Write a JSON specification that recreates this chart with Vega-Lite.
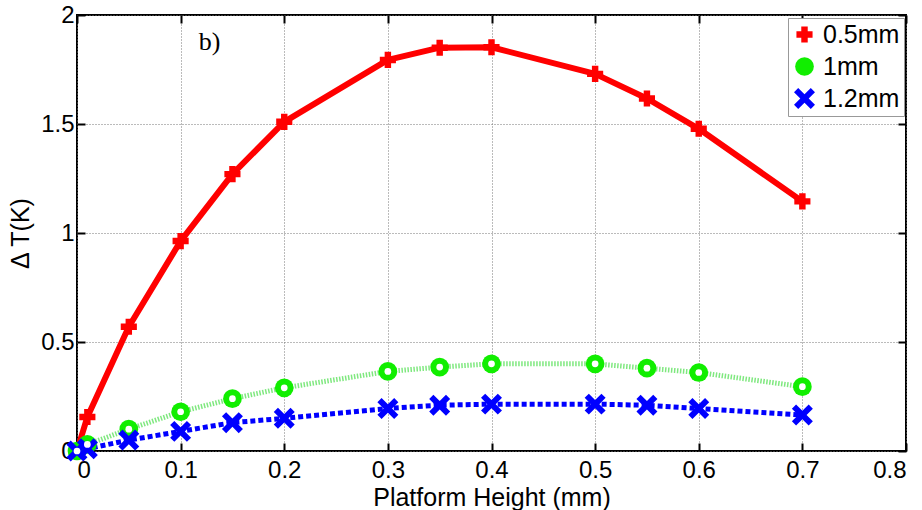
{
  "$schema": "https://vega.github.io/schema/vega-lite/v6.json",
  "width": 829,
  "height": 436,
  "autosize": {"type": "none"},
  "padding": {"left": 77, "top": 15, "right": 16, "bottom": 59},
  "background": "white",
  "config": {
    "view": {"stroke": "black", "strokeWidth": 2},
    "axis": {
      "labelFont": "Liberation Sans",
      "labelFontSize": 24,
      "labelColor": "black",
      "titleFont": "Liberation Sans",
      "titleFontSize": 25,
      "titleFontWeight": "normal",
      "titleColor": "black",
      "domain": false,
      "tickColor": "black",
      "tickWidth": 2,
      "tickSize": -8,
      "gridColor": "#777777",
      "gridDash": [1, 2],
      "gridWidth": 1,
      "format": "~g"
    },
    "legend": {
      "labelFont": "Liberation Sans",
      "labelFontSize": 25,
      "labelColor": "black",
      "strokeColor": "#999999",
      "fillColor": "white",
      "padding": 4,
      "rowPadding": 6,
      "labelOffset": 6,
      "symbolStrokeWidth": 0
    }
  },
  "data": {
    "values": [
      {"x": 0, "y": 0, "series": "0.5mm"},
      {"x": 0.01, "y": 0.156, "series": "0.5mm"},
      {"x": 0.05, "y": 0.57, "series": "0.5mm"},
      {"x": 0.1, "y": 0.963, "series": "0.5mm"},
      {"x": 0.15, "y": 1.27, "series": "0.5mm"},
      {"x": 0.2, "y": 1.51, "series": "0.5mm"},
      {"x": 0.3, "y": 1.794, "series": "0.5mm"},
      {"x": 0.35, "y": 1.85, "series": "0.5mm"},
      {"x": 0.4, "y": 1.852, "series": "0.5mm"},
      {"x": 0.5, "y": 1.73, "series": "0.5mm"},
      {"x": 0.55, "y": 1.617, "series": "0.5mm"},
      {"x": 0.6, "y": 1.478, "series": "0.5mm"},
      {"x": 0.7, "y": 1.145, "series": "0.5mm"},
      {"x": 0, "y": 0, "series": "1mm"},
      {"x": 0.01, "y": 0.03, "series": "1mm"},
      {"x": 0.05, "y": 0.1, "series": "1mm"},
      {"x": 0.1, "y": 0.18, "series": "1mm"},
      {"x": 0.15, "y": 0.24, "series": "1mm"},
      {"x": 0.2, "y": 0.29, "series": "1mm"},
      {"x": 0.3, "y": 0.365, "series": "1mm"},
      {"x": 0.35, "y": 0.385, "series": "1mm"},
      {"x": 0.4, "y": 0.4, "series": "1mm"},
      {"x": 0.5, "y": 0.4, "series": "1mm"},
      {"x": 0.55, "y": 0.38, "series": "1mm"},
      {"x": 0.6, "y": 0.36, "series": "1mm"},
      {"x": 0.7, "y": 0.295, "series": "1mm"},
      {"x": 0, "y": 0, "series": "1.2mm"},
      {"x": 0.01, "y": 0.01, "series": "1.2mm"},
      {"x": 0.05, "y": 0.05, "series": "1.2mm"},
      {"x": 0.1, "y": 0.09, "series": "1.2mm"},
      {"x": 0.15, "y": 0.13, "series": "1.2mm"},
      {"x": 0.2, "y": 0.15, "series": "1.2mm"},
      {"x": 0.3, "y": 0.195, "series": "1.2mm"},
      {"x": 0.35, "y": 0.21, "series": "1.2mm"},
      {"x": 0.4, "y": 0.215, "series": "1.2mm"},
      {"x": 0.5, "y": 0.215, "series": "1.2mm"},
      {"x": 0.55, "y": 0.21, "series": "1.2mm"},
      {"x": 0.6, "y": 0.195, "series": "1.2mm"},
      {"x": 0.7, "y": 0.165, "series": "1.2mm"}
    ]
  },
  "encoding": {
    "x": {"field": "x", "type": "quantitative", "scale": {"domain": [0, 0.8], "nice": false, "zero": false}},
    "y": {"field": "y", "type": "quantitative", "scale": {"domain": [0, 2], "nice": false}}
  },
  "layer": [
    {
      "transform": [{"filter": "datum.series == '0.5mm'"}],
      "mark": {"type": "line", "stroke": "#ff0000", "strokeWidth": 6, "strokeJoin": "round"},
      "encoding": {
        "x": {"field": "x", "type": "quantitative", "title": "Platform Height (mm)", "axis": {"values": [0, 0.1, 0.2, 0.3, 0.4, 0.5, 0.6, 0.7, 0.8], "labelPadding": 15, "titlePadding": 3}},
        "y": {"field": "y", "type": "quantitative", "title": "Δ T(K)", "axis": {"values": [0, 0.5, 1, 1.5, 2], "labelPadding": 11, "titlePadding": 7}}
      }
    },
    {
      "transform": [{"filter": "datum.series == '1mm'"}],
      "mark": {"type": "line", "stroke": "#7fe87f", "strokeWidth": 5, "strokeDash": [1.5, 1.5]},
      "encoding": {
        "x": {"field": "x", "type": "quantitative", "axis": null},
        "y": {"field": "y", "type": "quantitative", "axis": null}
      }
    },
    {
      "transform": [{"filter": "datum.series == '1.2mm'"}],
      "mark": {"type": "line", "stroke": "#0000ff", "strokeWidth": 5, "strokeDash": [5, 3]},
      "encoding": {
        "x": {"field": "x", "type": "quantitative", "axis": null},
        "y": {"field": "y", "type": "quantitative", "axis": null}
      }
    },
    {
      "mark": {"type": "point", "filled": true, "opacity": 1},
      "encoding": {
        "x": {"field": "x", "type": "quantitative", "axis": null},
        "y": {"field": "y", "type": "quantitative", "axis": null},
        "fill": {"field": "series", "type": "nominal", "scale": {"domain": ["0.5mm", "1mm", "1.2mm"], "range": ["#ff0000", "#11ee00", "#0000ff"]}, "legend": {"title": null, "orient": "none", "legendX": 711, "legendY": 3}},
        "shape": {"field": "series", "type": "nominal", "scale": {"domain": ["0.5mm", "1mm", "1.2mm"], "range": ["cross", "circle", "M-1,-0.6L-0.6,-1L0,-0.4L0.6,-1L1,-0.6L0.4,0L1,0.6L0.6,1L0,0.4L-0.6,1L-1,0.6L-0.4,0Z"]}},
        "size": {"field": "series", "type": "nominal", "scale": {"domain": ["0.5mm", "1mm", "1.2mm"], "range": [260, 440, 240]}}
      }
    },
    {
      "transform": [{"filter": "datum.series == '1mm'"}],
      "mark": {"type": "point", "filled": true, "opacity": 1, "fill": "white", "shape": "circle", "size": 45},
      "encoding": {
        "x": {"field": "x", "type": "quantitative", "axis": null},
        "y": {"field": "y", "type": "quantitative", "axis": null}
      }
    },
    {
      "transform": [{"filter": "datum.series == '0.5mm' && datum.x == 0"}],
      "mark": {"type": "text", "font": "Liberation Serif", "fontSize": 26, "fontWeight": "normal", "color": "black", "align": "center", "baseline": "middle"},
      "encoding": {
        "x": {"datum": 0.128, "type": "quantitative", "axis": {"orient": "top", "labels": false, "grid": false, "title": null, "values": [0, 0.1, 0.2, 0.3, 0.4, 0.5, 0.6, 0.7, 0.8]}},
        "y": {"datum": 1.875, "type": "quantitative", "axis": {"orient": "right", "labels": false, "grid": false, "title": null, "values": [0, 0.5, 1, 1.5, 2]}},
        "text": {"value": "b)"}
      }
    }
  ],
  "resolve": {"axis": {"x": "independent", "y": "independent"}}
}
